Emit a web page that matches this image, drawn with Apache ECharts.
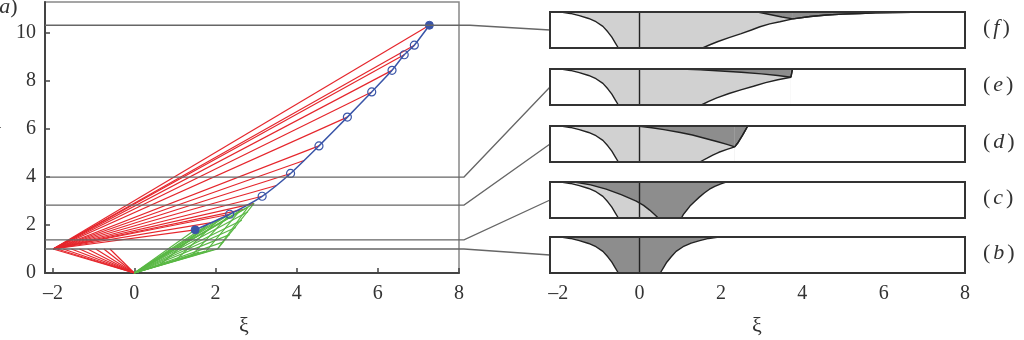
<!DOCTYPE html>
<html>
<head>
<meta charset="utf-8">
<script src="https://cdn.jsdelivr.net/npm/echarts@6/dist/echarts.min.js"></script>
<style>
  html, body { margin: 0; padding: 0; background: #fff; }
  #root { width: 1024px; height: 340px; }
</style>
</head>
<body>
<div id="root"></div>
<script>
// axis ticks
const xiTicks = [-2, 0, 2, 4, 6, 8];
const tauTicks = [0, 2, 4, 6, 8, 10];

// left panel (a): characteristics
const redSource = [-2, 1];
const redTargets = [[1.5, 1.8], [1.9, 2.1], [2.35, 2.45], [2.7, 2.65], [2.95, 2.9], [3.15, 3.2],
  [3.5, 3.65], [3.85, 4.15], [4.2, 4.7], [4.55, 5.3], [5.25, 6.5], [5.85, 7.55], [6.35, 8.45],
  [6.65, 9.1], [6.9, 9.5], [7.27, 10.33]];
const redLowSource = [0, 0];
const redLowTargets = [[-2, 1], [-1.9, 1], [-1.75, 1], [-1.55, 1], [-1.35, 1], [-1.15, 1], [-0.95, 1], [-0.75, 1], [-0.6, 1]];
const greenSource = [0, 0];
const greenTargets = [[1.5, 1.8], [1.8, 2.0], [2.1, 2.25], [2.35, 2.45], [2.6, 2.6], [2.8, 2.75],
  [2.95, 2.9], [2.8, 2.55], [2.65, 2.2], [2.5, 1.9], [2.35, 1.6], [2.2, 1.3], [2.05, 1.0],
  [1.95, 0.97], [1.85, 0.94], [1.75, 0.91], [1.6, 0.87]];
// green segments rising from the lower edge to the curve: [from, to]
const greenSegments = [
  [[2.05, 1.0], [2.95, 2.9]],
  [[0.6, 0.3], [1.8, 2.0]],
  [[1.0, 0.5], [2.1, 2.25]],
  [[1.4, 0.7], [2.35, 2.45]],
  [[1.75, 0.87], [2.6, 2.6]],
  [[2.05, 1.0], [2.8, 2.75]]
];
const bluePath = [[1.5, 1.8], [2.35, 2.45], [3.15, 3.2], [3.85, 4.15], [4.55, 5.3], [5.25, 6.5],
  [5.85, 7.55], [6.35, 8.45], [6.65, 9.1], [6.9, 9.5], [7.27, 10.33]];

// levels shown in the right panels, top to bottom
const panelNames = ['f', 'e', 'd', 'c', 'b'];
const levelTau = [10.33, 4.0, 2.83, 1.38, 1.0];

// right panel profiles (xi, eta)
const leftCurve = [[-1.93, 1], [-1.7, 0.96], [-1.48, 0.9], [-1.25, 0.82], [-1.07, 0.73], [-0.9, 0.6],
  [-0.78, 0.45], [-0.68, 0.3], [-0.6, 0.15], [-0.52, 0]];
const rightB = [[0.51, 0], [0.59, 0.15], [0.67, 0.3], [0.78, 0.45], [0.9, 0.6], [1.07, 0.73],
  [1.27, 0.83], [1.48, 0.9], [1.7, 0.96], [1.95, 1]];
const innerC = [[-1.6, 1], [-1.2, 0.92], [-0.82, 0.8], [-0.45, 0.65], [-0.08, 0.47], [0.1, 0.35],
  [0.25, 0.22], [0.37, 0.1], [0.46, 0]];
const rightC = [[1.03, 0], [1.08, 0.1], [1.15, 0.2], [1.24, 0.33], [1.35, 0.45], [1.47, 0.58],
  [1.6, 0.7], [1.72, 0.8], [1.85, 0.88], [2.0, 0.95], [2.13, 1]];
const rightD = [[1.48, 0], [1.65, 0.1], [1.8, 0.19], [1.95, 0.27], [2.15, 0.35], [2.34, 0.42]];
const shockD = [[-0.05, 1], [0.3, 0.95], [0.6, 0.9], [1.0, 0.82], [1.3, 0.75], [1.6, 0.66], [1.9, 0.57], [2.15, 0.49], [2.34, 0.42]];
const tipD = [[2.34, 0.42], [2.41, 0.52], [2.47, 0.63], [2.53, 0.74], [2.59, 0.86], [2.66, 1]];
const rightE = [[1.52, 0], [1.7, 0.1], [1.9, 0.2], [2.2, 0.32], [2.49, 0.42], [2.8, 0.52], [3.1, 0.62], [3.4, 0.7], [3.72, 0.77]];
const shockE = [[1.0, 1], [1.5, 0.975], [2.0, 0.945], [2.5, 0.91], [3.0, 0.865], [3.4, 0.82], [3.72, 0.77]];
const tipE = [[3.72, 0.77], [3.76, 1]];
const rightF = [[1.55, 0], [1.73, 0.09], [1.93, 0.18], [2.2, 0.29], [2.5, 0.4], [2.75, 0.5], [2.96, 0.59],
  [3.2, 0.67], [3.45, 0.73], [3.77, 0.81], [4.2, 0.875], [4.6, 0.915], [5.0, 0.94], [5.42, 0.96],
  [5.8, 0.975], [6.23, 0.985], [6.7, 0.995], [7.1, 1]];
const wedgeF = [[2.9, 1], [3.2, 0.93], [3.5, 0.86], [3.77, 0.81]];

const LIGHT = '#d1d1d1';
const DARK = '#8d8d8d';
const INK = '#222';
const RED = '#e5262c';
const GREEN = '#5ab845';
const BLUE = '#3a55a8';
const SERIF = "'Liberation Serif', 'Times New Roman', serif";

const chart = echarts.init(document.getElementById('root'));

const panelTops = [12, 69, 126, 182, 237];
const panelBg = [LIGHT, LIGHT, LIGHT, DARK, DARK];
const grids = [{ left: 45, top: 2, width: 414, height: 271, show: true, borderColor: '#888', borderWidth: 1.5 }];
panelTops.forEach((t, i) => grids.push({ left: 550, top: t, width: 415, height: 36, show: true, backgroundColor: panelBg[i], borderWidth: 0 }));

const labelStyle = { color: '#333', fontFamily: SERIF, fontSize: 20 };
const minusFmt = v => (v < 0 ? '\u2013' + Math.abs(v) : String(v));

const xAxes = [{
  gridIndex: 0, type: 'value', min: -2.2, max: 8,
  axisLine: { onZero: false, lineStyle: { color: '#444', width: 2 } },
  axisTick: { inside: true, length: 5, customValues: xiTicks, lineStyle: { color: '#444', width: 1.5 } },
  axisLabel: Object.assign({ customValues: xiTicks, margin: 11, formatter: minusFmt }, labelStyle),
  splitLine: { show: false }
}];
const yAxes = [{
  gridIndex: 0, type: 'value', min: 0, max: 11.3,
  axisLine: { onZero: false, lineStyle: { color: '#444', width: 2 } },
  axisTick: { inside: true, length: 5, customValues: tauTicks, lineStyle: { color: '#444', width: 1.5 } },
  axisLabel: Object.assign({ customValues: tauTicks, margin: 9 }, labelStyle),
  splitLine: { show: false }
}];
panelNames.forEach((n, i) => {
  const last = i === panelNames.length - 1;
  xAxes.push({
    gridIndex: i + 1, type: 'value', min: -2.2, max: 8,
    axisLine: { show: false }, axisTick: { show: false }, splitLine: { show: false },
    axisLabel: last ? Object.assign({ customValues: xiTicks, margin: 11, formatter: minusFmt }, labelStyle) : { show: false }
  });
  yAxes.push({ gridIndex: i + 1, type: 'value', min: 0, max: 1, show: false });
});

const series = [];

function segs(pairs, color) {
  series.push({
    type: 'lines', coordinateSystem: 'cartesian2d', xAxisIndex: 0, yAxisIndex: 0,
    silent: true, animation: false,
    lineStyle: { color: color, width: 1.2, opacity: 1 },
    data: pairs.map(p => ({ coords: p }))
  });
}
segs(redLowTargets.map(t => [redLowSource, t]), RED);
segs(redTargets.map(t => [redSource, t]), RED);
segs(greenTargets.map(t => [greenSource, t]), GREEN);
segs(greenSegments, GREEN);

series.push({
  type: 'line', xAxisIndex: 0, yAxisIndex: 0,
  data: bluePath.map((p, i) => {
    const end = i === 0 || i === bluePath.length - 1;
    return {
      value: p,
      itemStyle: end ? { color: BLUE, borderColor: BLUE } : { color: 'rgba(0,0,0,0)', borderColor: BLUE, borderWidth: 1.2 }
    };
  }),
  symbol: 'circle', symbolSize: 8, showSymbol: true, smooth: 0.2, animation: false, silent: true,
  lineStyle: { color: BLUE, width: 1.5 }
});

function area(gi, pts, origin, fill) {
  series.push({
    type: 'line', xAxisIndex: gi, yAxisIndex: gi, data: pts,
    showSymbol: false, smooth: false, animation: false, silent: true,
    lineStyle: { color: INK, width: 1.4 },
    areaStyle: { color: fill, opacity: 1, origin: origin }
  });
}
function zeroLine(gi) {
  series.push({
    type: 'line', xAxisIndex: gi, yAxisIndex: gi, data: [[0, 0], [0, 1]],
    showSymbol: false, animation: false, silent: true, lineStyle: { color: INK, width: 1.4 }
  });
}
const leftWhite = [[-2.2, 1]].concat(leftCurve);

// (f) grid 1
area(1, rightF.concat([[8, 1]]), 'start', '#fff');
area(1, wedgeF, 'end', DARK);
area(1, rightF.filter(p => p[0] >= 3.77), 'end', DARK);
area(1, leftWhite, 'start', '#fff');
zeroLine(1);
// (e) grid 2
area(2, shockE, 'end', DARK);
area(2, tipE, 'end', DARK);
area(2, rightE, 'start', '#fff');
area(2, tipE.concat([[8, 1]]), 'start', '#fff');
area(2, leftWhite, 'start', '#fff');
zeroLine(2);
// (d) grid 3
area(3, shockD, 'end', DARK);
area(3, tipD, 'end', DARK);
area(3, rightD, 'start', '#fff');
area(3, tipD.concat([[8, 1]]), 'start', '#fff');
area(3, leftWhite, 'start', '#fff');
zeroLine(3);
// (c) grid 4
area(4, [[-2.2, 1]].concat(innerC), 'start', LIGHT);
area(4, rightC.concat([[8, 1]]), 'start', '#fff');
area(4, leftWhite, 'start', '#fff');
zeroLine(4);
// (b) grid 5
area(5, rightB.concat([[8, 1]]), 'start', '#fff');
area(5, leftWhite, 'start', '#fff');
zeroLine(5);

chart.setOption({
  animation: false,
  grid: grids,
  xAxis: xAxes,
  yAxis: yAxes,
  series: series
});

// overlay: level lines, connectors, panel frames, labels
const graphic = [];
levelTau.forEach((t, i) => {
  const a = chart.convertToPixel({ gridIndex: 0 }, [-2.2, t]);
  const e = chart.convertToPixel({ gridIndex: 0 }, [8, t]);
  const b = chart.convertToPixel({ gridIndex: i + 1 }, [-2.2, 0.5]);
  graphic.push({
    type: 'polyline', z: 100, silent: true,
    shape: { points: [[a[0], a[1]], [e[0] + (i === 0 ? 11 : 5), e[1]], [b[0], b[1]]] },
    style: { stroke: '#666', lineWidth: 1.3, fill: null }
  });
});
panelNames.forEach((n, i) => {
  const p0 = chart.convertToPixel({ gridIndex: i + 1 }, [-2.2, 1]);
  const p1 = chart.convertToPixel({ gridIndex: i + 1 }, [8, 0]);
  graphic.push({
    type: 'rect', z: 110, silent: true,
    shape: { x: p0[0], y: p0[1], width: p1[0] - p0[0], height: p1[1] - p0[1] },
    style: { stroke: '#333', lineWidth: 2, fill: null }
  });
  graphic.push({
    type: 'text', z: 110, silent: true, left: 983, top: (p0[1] + p1[1]) / 2 - 13,
    style: {
      text: '{p|(}{i|' + n + '}{p|)}',
      rich: {
        p: { fontFamily: SERIF, fontSize: 22, fill: '#333' },
        i: { fontFamily: SERIF, fontSize: 22, fontStyle: 'italic', fill: '#333', padding: [0, 3, 0, 3] }
      }
    }
  });
});
graphic.push({
  type: 'text', silent: true, left: -8, top: -4,
  style: { text: '{p|(}{i|a}{p|)}', rich: {
    p: { fontFamily: SERIF, fontSize: 22, fill: '#333' },
    i: { fontFamily: SERIF, fontSize: 22, fontStyle: 'italic', fill: '#333' } } }
});
graphic.push({
  type: 'text', silent: true, left: -7, top: 122,
  style: { text: '\u03c4', fontFamily: SERIF, fontSize: 20, fontStyle: 'italic', fill: '#333' }
});
graphic.push({
  type: 'text', silent: true, left: 239, top: 315,
  style: { text: '\u03be', fontFamily: SERIF, fontSize: 22, fill: '#333' }
});
graphic.push({
  type: 'text', silent: true, left: 752, top: 315,
  style: { text: '\u03be', fontFamily: SERIF, fontSize: 22, fill: '#333' }
});
chart.setOption({ graphic: graphic });
</script>
</body>
</html>
